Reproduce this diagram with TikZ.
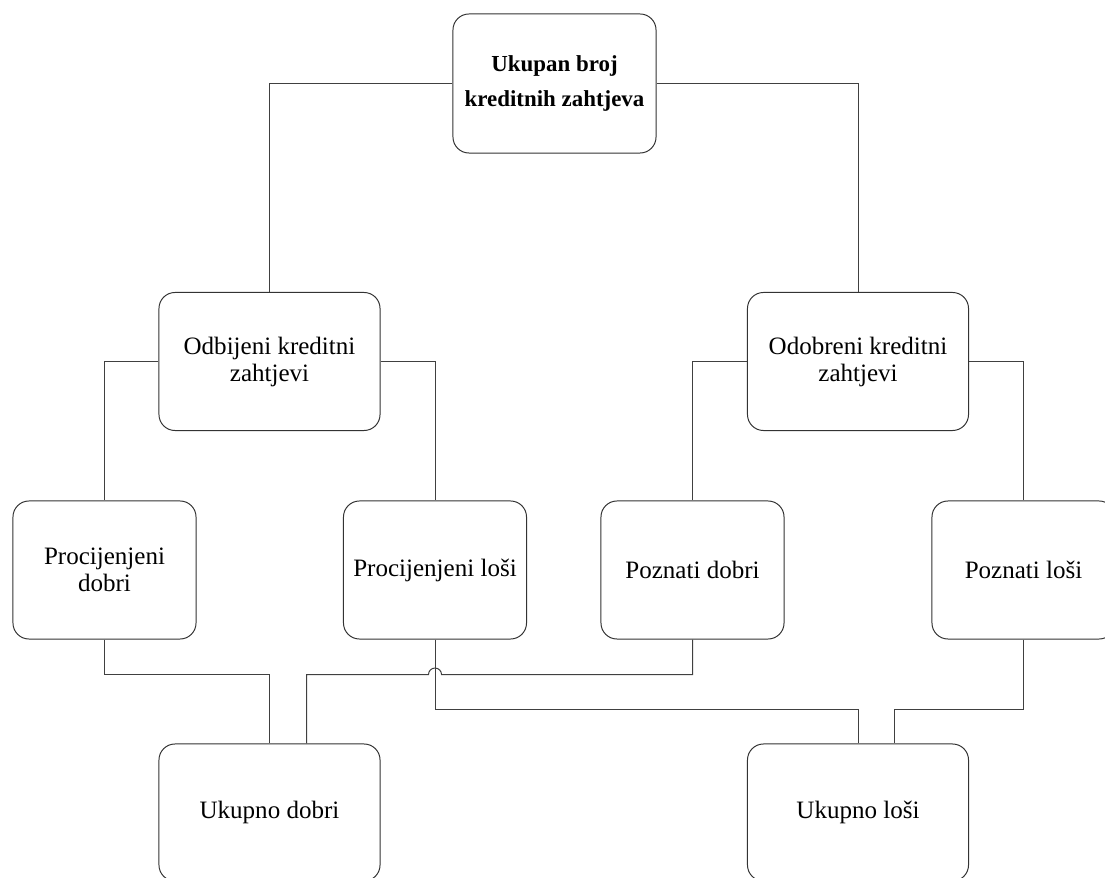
\documentclass[tikz,border=0pt]{standalone}
\usepackage{fontspec}
\setmainfont{Liberation Serif}
\usepackage{tikz}
\usetikzlibrary{shapes,arrows}
\tikzstyle{block} = [rectangle, draw=black!80, line width=0.7pt,
    align=center, rounded corners=0.4cm, inner sep=0pt,
    minimum width=4.575cm, minimum height=3.45cm,
    font=\fontsize{17.8}{19.2}\selectfont]
\tikzstyle{wide} = [block, minimum width=5.525cm]
\tikzstyle{head} = [block, minimum width=5.075cm, minimum height=3.475cm,
    font=\fontsize{16.3}{24.5}\selectfont\bfseries]
\tikzstyle{line} = [draw=black!75, line width=0.7pt]

\begin{document}
\begin{tikzpicture}[x=0.025cm, y=-0.025cm]
    \useasboundingbox (0,0) rectangle (1105,878);
    \node[head] (top) at (554.5,83.5) {Ukupan broj\\kreditnih zahtjeva};
    \node[wide] (odb) at (269.5,361.5) {Odbijeni kreditni\\zahtjevi};
    \node[wide] (odo) at (858,361.5) {Odobreni kreditni\\zahtjevi};
    \node[block] (pd) at (104.5,570) {Procijenjeni\\dobri};
    \node[block] (pl) at (435,570) {Procijenjeni loši};
    \node[block] (zd) at (692.5,570) {Poznati dobri};
    \node[block] (zl) at (1023.5,570) {Poznati loši};
    \node[wide, minimum height=3.425cm] (ud) at (269.5,812.5) {Ukupno dobri};
    \node[wide, minimum height=3.425cm] (ul) at (858,812.5) {Ukupno loši};

    \path[line] (top.west) -| (odb.north);
    \path[line] (top.east) -| (odo.north);
    \path[line] (odb.west) -| (pd.north);
    \path[line] (odb.east) -| (pl.north);
    \path[line] (odo.west) -| (zd.north);
    \path[line] (odo.east) -| (zl.north);
    \path[line] (pd.south) -- ++(0,35) -| (ud.north);
    \path[line] (zd.south) -- ++(0,35) coordinate (zdk)
        -- ([xshift=0.1625cm]pl.south |- zdk)
        arc[start angle=0, end angle=180, radius=0.1625cm]
        -- ([xshift=0.925cm]ud.north |- zdk) -- ([xshift=0.925cm]ud.north);
    \path[line] (pl.south) -- ++(0,70) -| (ul.north);
    \path[line] (zl.south) -- ++(0,70) -| ([xshift=0.9cm]ul.north);
\end{tikzpicture}
\end{document}
